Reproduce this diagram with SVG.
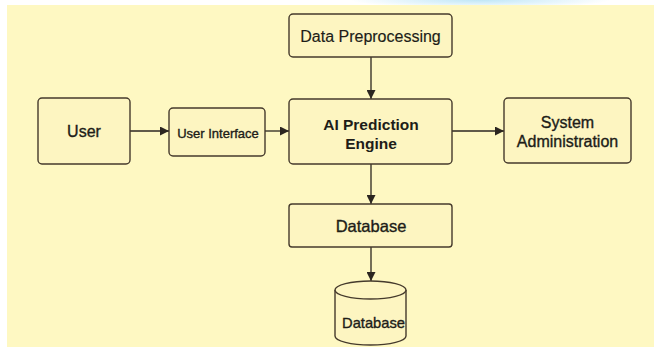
<svg xmlns="http://www.w3.org/2000/svg" width="654" height="347" viewBox="0 0 654 347">
  <defs>
    <marker id="arrow" viewBox="0 0 10 10" refX="10" refY="5" markerWidth="9" markerHeight="9" markerUnits="userSpaceOnUse" orient="auto">
      <path d="M0,0 L10,5 L0,10 z" fill="#2b2620"/>
    </marker>
    <radialGradient id="glow" cx="0.5" cy="0.5" r="0.5">
      <stop offset="0" stop-color="#bfe6f7"/>
      <stop offset="1" stop-color="#ffffff"/>
    </radialGradient>
  </defs>
  <style>
    .box { fill: #fdf5c1; stroke: #453a2c; stroke-width: 1.4; }
    .edge { stroke: #2b2620; stroke-width: 1.3; fill: none; marker-end: url(#arrow); }
    text { font-family: "Liberation Sans", Arial, sans-serif; fill: #201c18; text-anchor: middle; dominant-baseline: central; }
    .med { font-weight: normal; stroke: #201c18; stroke-width: 0.35; }
    .bold { font-weight: bold; }
  </style>

  <!-- page background -->
  <rect width="654" height="347" fill="#ffffff"/>
  <ellipse cx="480" cy="0" rx="130" ry="8" fill="url(#glow)"/>
  <rect x="7" y="5" width="647" height="342" fill="#fef8c2"/>

  <!-- connectors -->
  <g id="connectors">
    <line class="edge" x1="371" y1="57" x2="371" y2="99"/>
    <line class="edge" x1="130" y1="131" x2="169" y2="131"/>
    <line class="edge" x1="265" y1="131" x2="289" y2="131"/>
    <line class="edge" x1="452" y1="131" x2="504" y2="131"/>
    <line class="edge" x1="371" y1="164" x2="371" y2="204"/>
    <line class="edge" x1="371" y1="247" x2="371" y2="281"/>
  </g>

  <g id="data-preprocessing">
    <rect class="box" x="289" y="14" width="163" height="43" rx="4"/>
    <text x="370.5" y="36" font-size="16" stroke="#201c18" stroke-width="0.15">Data Preprocessing</text>
  </g>

  <g id="user">
    <rect class="box" x="38" y="98" width="92" height="66" rx="4"/>
    <text class="med" x="84" y="131" font-size="16">User</text>
  </g>

  <g id="user-interface">
    <rect class="box" x="169" y="108" width="96" height="48" rx="4"/>
    <text class="med" x="218" y="133" font-size="13">User Interface</text>
  </g>

  <g id="ai-prediction-engine">
    <rect class="box" x="289" y="99" width="163" height="65" rx="4"/>
    <text class="bold" x="371" y="124" font-size="15.5">AI Prediction</text>
    <text class="bold" x="371" y="143" font-size="15.5">Engine</text>
  </g>

  <g id="system-administration">
    <rect class="box" x="504" y="98" width="127" height="65" rx="4"/>
    <text class="med" x="567.5" y="122" font-size="16">System</text>
    <text class="med" x="567.5" y="141" font-size="16">Administration</text>
  </g>

  <g id="database-box">
    <rect class="box" x="289" y="204" width="163" height="43" rx="3"/>
    <text class="med" x="371" y="226" font-size="16.5">Database</text>
  </g>

  <g id="database-store">
    <path class="box" d="M335,290 L335,336 A35.5,9 0 0 0 406,336 L406,290"/>
    <ellipse class="box" cx="370.5" cy="290" rx="35.5" ry="9"/>
    <text class="med" x="373.5" y="322" font-size="15" textLength="63" lengthAdjust="spacingAndGlyphs">Database</text>
  </g>
</svg>
